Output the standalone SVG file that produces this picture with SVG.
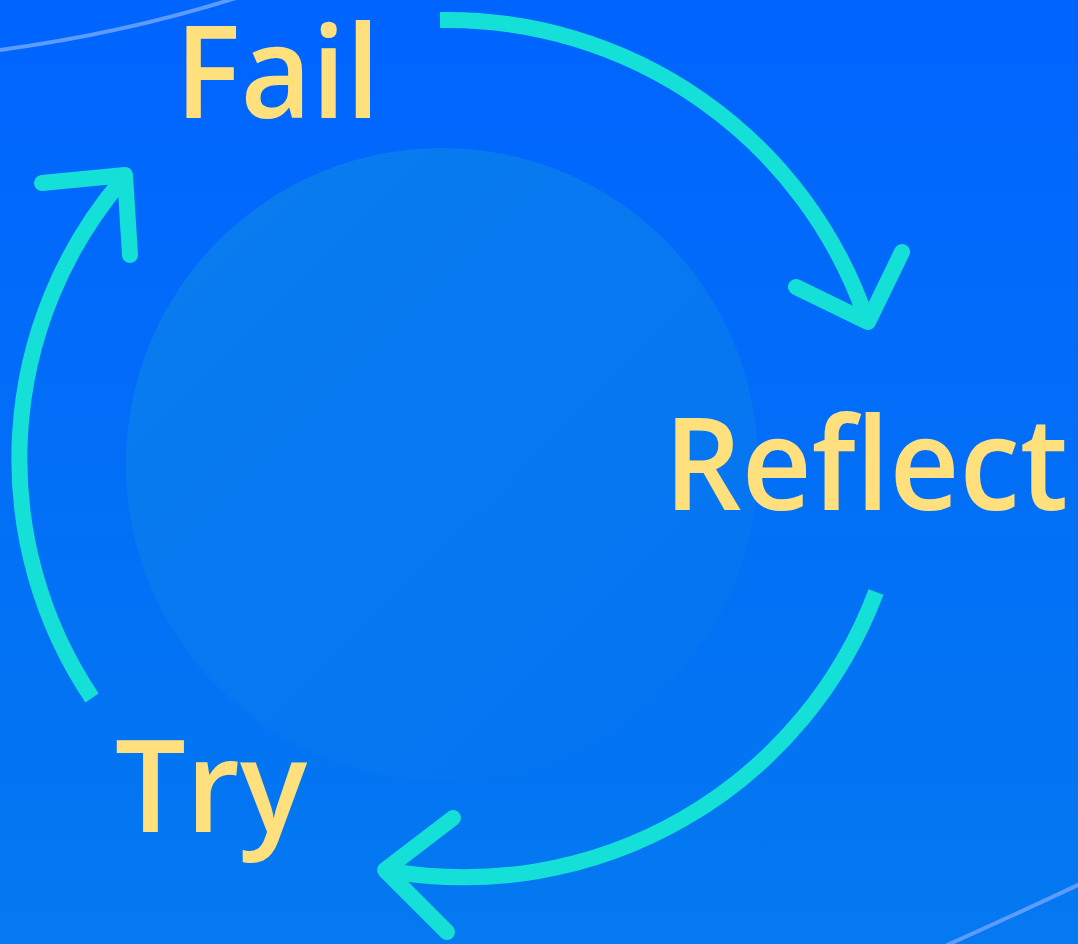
<svg xmlns="http://www.w3.org/2000/svg" width="1078" height="944" viewBox="0 0 1078 944">
<defs>
<linearGradient id="bg" x1="0" y1="0" x2="0" y2="1">
<stop offset="0" stop-color="#0064FF"/>
<stop offset="1" stop-color="#0479F0"/>
</linearGradient>
<linearGradient id="disc" x1="0" y1="0" x2="1" y2="1">
<stop offset="0" stop-color="#0A7DEF"/>
<stop offset="1" stop-color="#0473F2"/>
</linearGradient>
<style>
.lbl{font-family:"Open Sans","Noto Sans",sans-serif;font-weight:600;fill:#FFE07D;font-size:128px}
.arc{fill:none;stroke:#14E0D8;stroke-width:16;stroke-linecap:butt}
.head{fill:none;stroke:#14E0D8;stroke-width:16;stroke-linecap:round;stroke-linejoin:round}
.deco{fill:none;stroke:#5C9BFF;stroke-width:4}
</style>
</defs>
<rect width="1078" height="944" fill="url(#bg)"/>
<path class="deco" d="M0,50 Q125,33 236,-2"/>
<path class="deco" stroke="#5AA5FF" d="M945,946 Q1012,916 1080,884"/>
<circle cx="442" cy="464" r="316" fill="url(#disc)"/>
<g id="connectors">
<path class="arc" d="M440,20 A443,443 0 0 1 866,318"/>
<polyline class="head" points="796,287 868,322 902,252"/>
<path class="arc" d="M876,592 A440,440 0 0 1 390,871"/>
<polyline class="head" points="453,818 385,870 447,932"/>
<path class="arc" d="M92,698 A430,430 0 0 1 122,180"/>
<polyline class="head" points="42,183 125,175 130,255"/>
</g>
<g id="fail"><text class="lbl" x="175" y="118" textLength="205" lengthAdjust="spacingAndGlyphs">Fail</text></g>
<g id="reflect"><text class="lbl" x="664" y="510" textLength="404" lengthAdjust="spacingAndGlyphs">Reflect</text></g>
<g id="try"><text class="lbl" x="115" y="832" textLength="192" lengthAdjust="spacingAndGlyphs">Try</text></g>
</svg>
